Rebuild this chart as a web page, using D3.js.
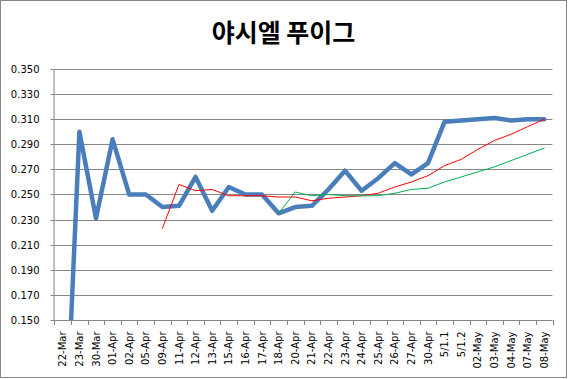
<!DOCTYPE html>
<html><head><meta charset="utf-8">
<script src="https://cdn.jsdelivr.net/npm/d3@7"></script>
<style>body{margin:0;background:#fff}svg{display:block}</style>
</head><body>
<script>
const title = "야시엘 푸이그";
const categories = ["22-Mar","23-Mar","30-Mar","01-Apr","02-Apr","05-Apr","09-Apr","11-Apr","12-Apr","13-Apr","15-Apr","16-Apr","17-Apr","18-Apr","20-Apr","21-Apr","22-Apr","23-Apr","24-Apr","25-Apr","26-Apr","27-Apr","30-Apr","5/1.1","5/1.2","02-May","03-May","04-May","07-May","08-May"];
const blueValues = [0.000,0.300,0.231,0.294,0.250,0.250,0.240,0.241,0.264,0.237,0.256,0.250,0.250,0.235,0.240,0.241,0.254,0.269,0.253,0.263,0.275,0.266,0.275,0.308,0.309,0.310,0.311,0.309,0.310,0.310];
const redValues = [null,null,null,null,null,null,0.223,0.258,0.253,0.254,0.249,0.249,0.249,0.248,0.248,0.245,0.247,0.248,0.249,0.251,0.256,0.260,0.265,0.273,0.278,0.286,0.293,0.298,0.304,0.310];
const greenValues = [null,null,null,null,null,null,null,null,null,null,null,null,null,0.235,0.252,0.249,0.250,0.249,0.249,0.249,0.251,0.254,0.255,0.260,0.264,0.268,0.272,0.277,0.282,0.287];
const yTicks = [0.150,0.170,0.190,0.210,0.230,0.250,0.270,0.290,0.310,0.330,0.350];

const W = 568, H = 379;
const svg = d3.select("body").append("svg").attr("width", W).attr("height", H);
svg.append("rect").attr("x",0.5).attr("y",0.5).attr("width",W-2).attr("height",H-2)
  .attr("fill","#fff").attr("stroke","#868686");

const L = 54.5, R = 552.5, T = 69, B = 320;
const x = d3.scaleBand().domain(categories).range([L, R]).padding(0);
const cx = c => x(c) + x.bandwidth()/2;
const y = d3.scaleLinear().domain([0.150, 0.350]).range([B, T]);

svg.append("text").attr("x", 283.5).attr("y", 42).attr("text-anchor","middle")
  .attr("font-family","'Noto Sans CJK KR'").attr("font-weight","bold").attr("font-size",25)
  .attr("fill","#000").text(title);

// gridlines
svg.append("g").selectAll("line").data(yTicks).join("line")
  .attr("x1", L).attr("x2", R).attr("y1", d => Math.round(y(d))+0.5).attr("y2", d => Math.round(y(d))+0.5)
  .attr("stroke","#868686").attr("stroke-width",1);

// y axis
const yAxis = d3.axisLeft(y).tickValues(yTicks).tickFormat(d3.format(".3f")).tickSize(4).tickPadding(11);
const gy = svg.append("g").attr("transform",`translate(${L},0)`).call(yAxis);
gy.select(".domain").attr("stroke","#868686").attr("d", `M-0.5,${T}V${B}`);
gy.selectAll(".tick line").attr("stroke","#868686");
gy.selectAll(".tick").attr("transform", d => `translate(0,${Math.round(y(d))+0.5})`);
gy.selectAll("text").attr("font-family","'DejaVu Sans'").attr("font-size",10).attr("fill","#000");

// x axis
const xAxis = d3.axisBottom(x).tickSize(0).tickPadding(0);
const gx = svg.append("g").attr("transform",`translate(0,${B+0.5})`).call(xAxis);
gx.select(".domain").remove();
gx.selectAll(".tick text").attr("font-family","'DejaVu Sans'").attr("font-size",10).attr("fill","#000")
  .attr("text-anchor","end").attr("transform","rotate(-90)").attr("x",-11).attr("y",0).attr("dy","0.35em");
const bounds = categories.map(c => x(c)).concat([R]);
svg.append("g").selectAll("line").data(bounds).join("line")
  .attr("x1", d => Math.round(d)+0.5).attr("x2", d => Math.round(d)+0.5).attr("y1", B).attr("y2", B+5)
  .attr("stroke","#868686");

// clip
svg.append("clipPath").attr("id","plotclip").append("rect").attr("x",L).attr("y",T-10).attr("width",R-L+10).attr("height",B-T+10);

const line = d3.line().defined(d => d.v !== null).x(d => cx(d.c)).y(d => y(d.v));
const series = [
  {vals: blueValues, color: "#4a7ebb", w: 4.5},
  {vals: redValues, color: "#ff0000", w: 1},
  {vals: greenValues, color: "#00b050", w: 1}
];
const gl = svg.append("g").attr("clip-path","url(#plotclip)");
series.forEach(s => {
  gl.append("path").datum(categories.map((c,i) => ({c, v: s.vals[i]})))
    .attr("d", line).attr("fill","none").attr("stroke", s.color).attr("stroke-width", s.w)
    .attr("stroke-linejoin","round").attr("stroke-linecap","round");
});
</script>
</body></html>
